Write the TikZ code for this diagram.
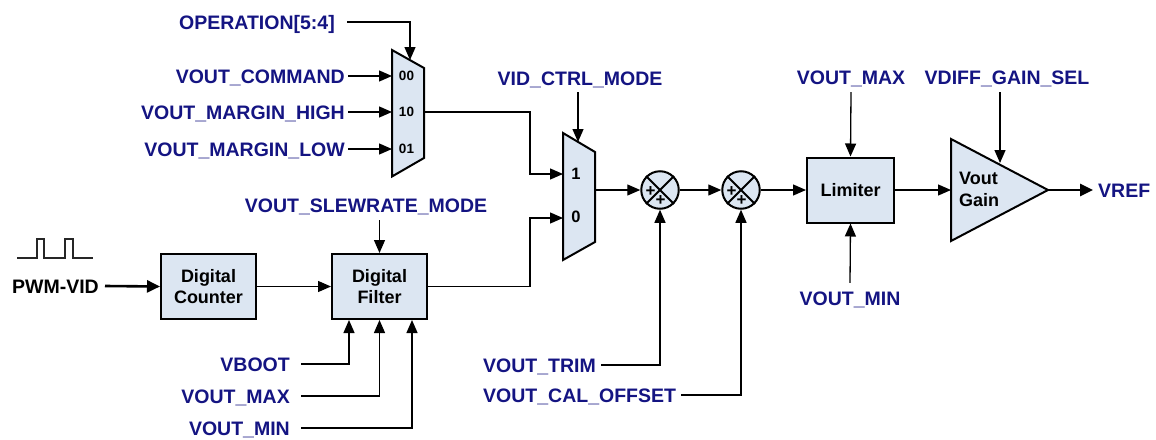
\documentclass[tikz,border=0pt]{standalone}
\usepackage{fontspec}
\setmainfont{Liberation Sans}
\usetikzlibrary{arrows.meta,calc}
\definecolor{navy}{RGB}{20,20,130}
\definecolor{boxfill}{RGB}{220,230,242}
\begin{document}
\begin{tikzpicture}[x=1pt,y=-1pt,
  lbl/.style={font=\fontsize{19.5}{22}\selectfont\bfseries, text=navy, inner sep=0pt, text height=14pt, text depth=0pt},
  blk/.style={draw, line width=2pt, fill=boxfill, minimum width=95pt, minimum height=65pt, font=\fontsize{18}{21}\selectfont\bfseries, align=center, inner sep=0pt},
  shp/.style={draw, line width=2pt, fill=boxfill, line join=miter},
  sumnode/.style={circle, draw, line width=2pt, fill=boxfill, minimum size=37.5pt, inner sep=0pt},
  wire/.style={line width=1.3pt, -{Triangle[length=13pt,width=11pt]}},
  thickwire/.style={line width=2.6pt, -{Triangle[length=13pt,width=12pt]}},
  portlbl/.style={font=\fontsize{13.5}{14}\selectfont\bfseries, inner sep=0pt},
  pl/.style={font=\fontsize{17}{17}\selectfont\bfseries, inner sep=0pt}]
\useasboundingbox (0,0) rectangle (1156,439);

% ---------- mux 1 ----------
\draw[shp] (392,50) -- (424,68) -- (424,158) -- (392,176.5) -- cycle;
\coordinate (m1in0) at (392,76);
\coordinate (m1in1) at (392,112);
\coordinate (m1in2) at (392,149);
\coordinate (m1out) at (424,112);
\coordinate (m1sel) at (410,60);
\node[portlbl] (p00) at (406.5,76) {00};
\node[portlbl] (p10) at (406.5,112) {10};
\node[portlbl] (p01) at (406.5,149) {01};

% ---------- mux 2 ----------
\draw[shp] (563,133) -- (595,152) -- (595,242) -- (563,260) -- cycle;
\coordinate (m2in1) at (563,174);
\coordinate (m2in0) at (563,218);
\coordinate (m2out) at (595,190);
\coordinate (m2sel) at (578,142);
\node[font=\fontsize{16.5}{17}\selectfont\bfseries, inner sep=0pt] (q1) at (576,174) {1};
\node[font=\fontsize{16.5}{17}\selectfont\bfseries, inner sep=0pt] (q0) at (576,217) {0};

% ---------- blocks ----------
\node[blk] (cnt) at (208.5,286.5) {Digital\\Counter};
\node[blk] (fil) at (379.5,286.5) {Digital\\Filter};
\node[blk, minimum width=87pt] (lim) at (850.5,190) {Limiter};

% summers
\node[sumnode] (s1) at (660,190) {};
\node[sumnode] (s2) at (741,190) {};
\foreach \s in {s1,s2}{
  \draw[line width=2pt] (\s.north west) -- (\s.south east) (\s.north east) -- (\s.south west);
  \node[pl] at ($(\s)+(-9.5,1.5)$) {+};
  \node[pl] at ($(\s)+(0.5,10.5)$) {+};
}

% amplifier
\draw[shp] (951,139) -- (1048,190) -- (951,241) -- cycle;
\coordinate (ampin) at (951,190);
\coordinate (ampout) at (1048,190);
\coordinate (ampsel) at (1000,163);
\node[font=\fontsize{18}{22}\selectfont\bfseries, align=left, anchor=west, inner sep=0pt] (gain) at (959,189) {Vout\\Gain};

% ---------- labels ----------
\node[lbl, anchor=east] (op) at (335,22) {OPERATION[5:4]};
\node[lbl, anchor=east] (vcmd) at (345,76) {VOUT\_COMMAND};
\node[lbl, anchor=east] (vmh) at (345,112) {VOUT\_MARGIN\_HIGH};
\node[lbl, anchor=east] (vml) at (345,149) {VOUT\_MARGIN\_LOW};
\node[lbl] (vid) at (580,78) {VID\_CTRL\_MODE};
\node[lbl] (slew) at (366,205) {VOUT\_SLEWRATE\_MODE};
\node[lbl] (lmax) at (851,77) {VOUT\_MAX};
\node[lbl] (lmin) at (850,298) {VOUT\_MIN};
\node[lbl] (vdiff) at (1007,77) {VDIFF\_GAIN\_SEL};
\node[lbl, anchor=west] (vref) at (1098,190) {VREF};
\node[lbl, anchor=west] (trim) at (483,365) {VOUT\_TRIM};
\node[lbl, anchor=west] (cal) at (483,395) {VOUT\_CAL\_OFFSET};
\node[lbl, anchor=east] (vboot) at (290,364) {VBOOT};
\node[lbl, anchor=east] (fmax) at (290,396) {VOUT\_MAX};
\node[lbl, anchor=east] (fmin) at (290,428) {VOUT\_MIN};
\node[lbl, text=black, anchor=east] (pwm) at (99,286) {PWM-VID};

% free ends
\coordinate (vidtop) at (578,92);
\coordinate (slewtop) at (379.5,220);
\coordinate (vdtop) at (1000,92);

% pulse waveform
\draw[line width=1.4pt, black!85] (17,258) -- (37,258) -- (37,239) -- (44,239) -- (44,258) -- (65,258) -- (65,239) -- (73,239) -- (73,258) -- (93,258);

% ---------- connectors ----------
\draw[wire] ([xshift=12pt]op.east) -| (m1sel);
\draw[wire] ([xshift=3pt]vcmd.east) -- (m1in0);
\draw[wire] ([xshift=3pt]vmh.east) -- (m1in1);
\draw[wire] ([xshift=3pt]vml.east) -- (m1in2);
\draw[wire] (m1out) -- ++(106,0) |- (m2in1);
\draw[wire] (fil.east) -- ++(102,0) |- (m2in0);
\draw[wire] (vidtop) -- (m2sel);
\draw[wire] (m2out) -- (s1.west);
\draw[wire] (s1.east) -- (s2.west);
\draw[wire] (s2.east) -- (lim.west);
\draw[wire] ([xshift=5pt]trim.east) -| (s1.south);
\draw[wire] ([xshift=5pt]cal.east) -| (s2.south);
\draw[wire] ([yshift=-8pt]lmax.south) -- (lim.north);
\draw[wire] ([yshift=8pt]lmin.north) -- (lim.south);
\draw[wire] (lim.east) -- (ampin);
\draw[wire] (vdtop) -- (ampsel);
\draw[thickwire] (ampout) -- ([xshift=-5pt]vref.west);
\draw[thickwire] ([xshift=6pt]pwm.east) -- (cnt.west);
\draw[wire] (cnt.east) -- (fil.west);
\draw[wire] (slewtop) -- (fil.north);
\draw[wire] ([xshift=11pt]vboot.east) -| ([xshift=-30.5pt]fil.south);
\draw[wire] ([xshift=11pt]fmax.east) -| (fil.south);
\draw[wire] ([xshift=11pt]fmin.east) -| ([xshift=32.5pt]fil.south);
\end{tikzpicture}
\end{document}
